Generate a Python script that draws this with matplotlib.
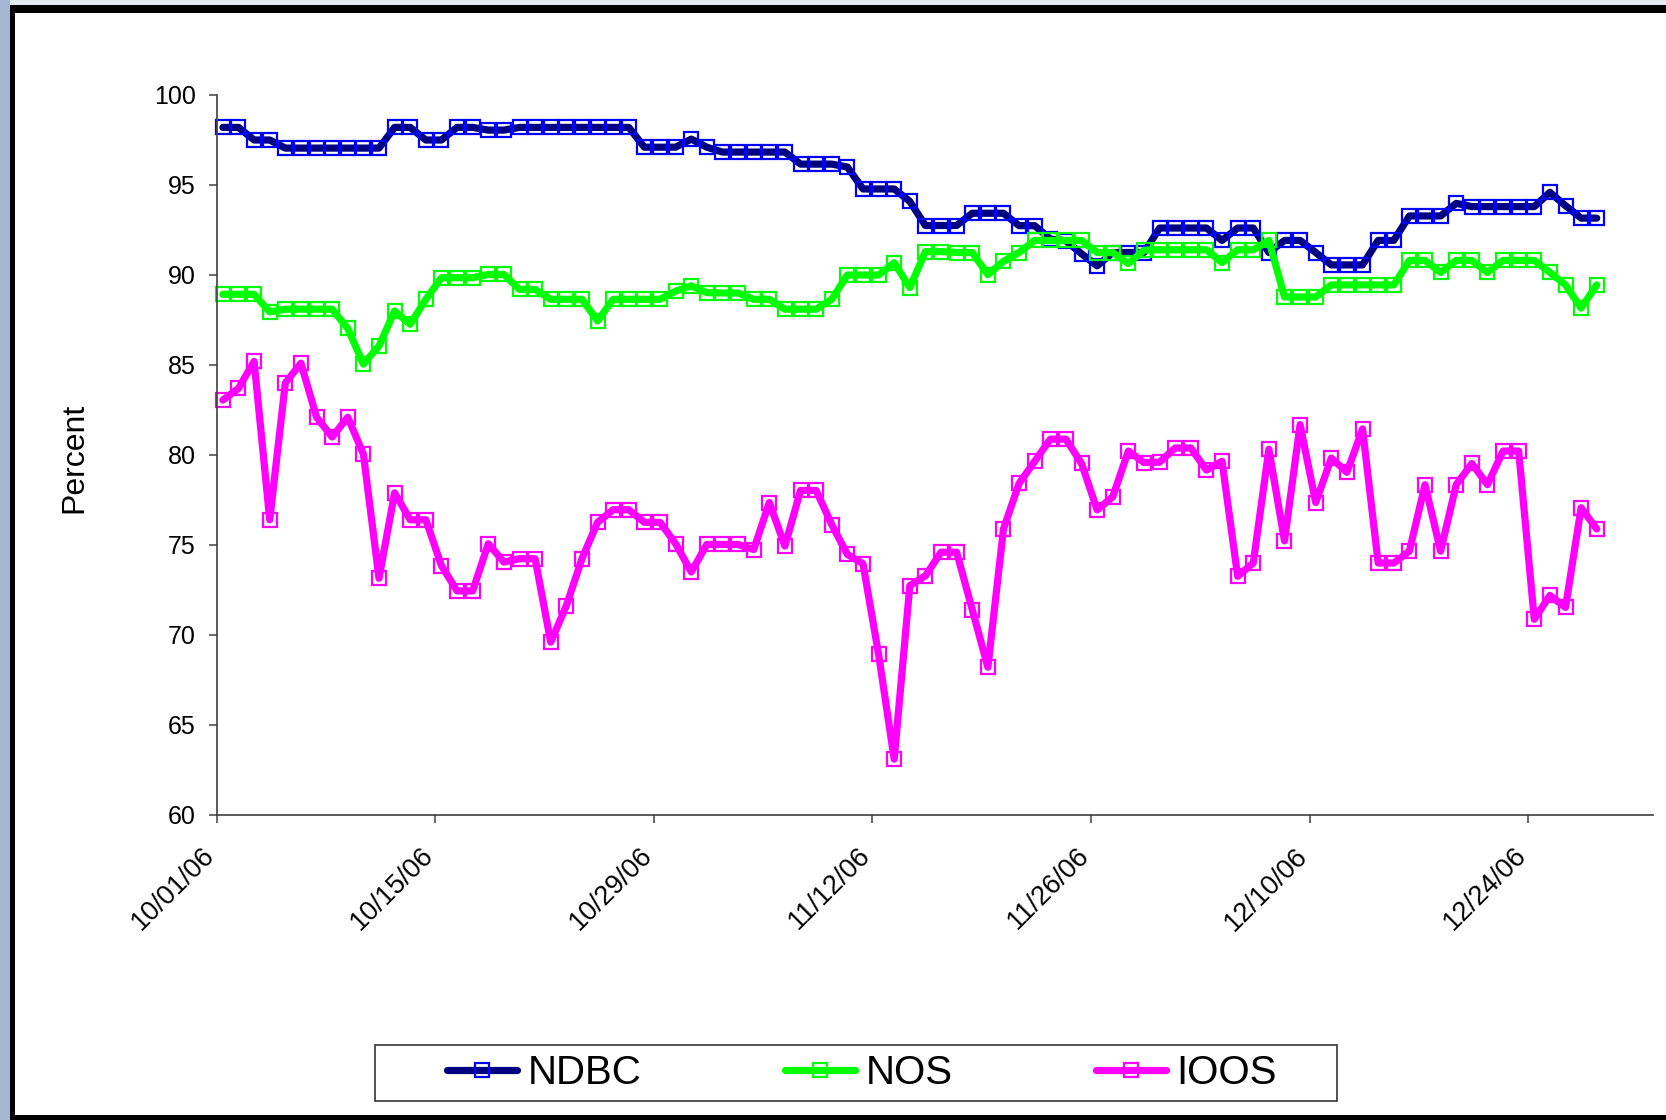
import pandas as pd
import matplotlib
matplotlib.use("Agg")
import matplotlib.pyplot as plt
import matplotlib.dates as mdates
from matplotlib.patches import Rectangle
from matplotlib.lines import Line2D
from matplotlib.transforms import ScaledTranslation

plt.rcParams['font.family'] = ['Liberation Sans', 'DejaVu Sans']

# Daily availability, 10/01/06 - 12/28/06 (one sample per day)
dates = pd.date_range('2006-10-01 09:30', periods=89, freq='D')

ndbc = [98.2, 98.2, 97.5, 97.5, 97.05, 97.05, 97.05, 97.05, 97.05, 97.05,
        97.05, 98.2, 98.2, 97.5, 97.5, 98.2, 98.2, 98.05, 98.05, 98.2,
        98.2, 98.2, 98.2, 98.2, 98.2, 98.2, 98.2, 97.1, 97.1, 97.1,
        97.55, 97.1, 96.83, 96.83, 96.83, 96.83, 96.83, 96.16, 96.16, 96.16,
        96.0, 94.78, 94.78, 94.78, 94.09, 92.75, 92.75, 92.75, 93.43, 93.43,
        93.43, 92.74, 92.74, 92.0, 91.9, 91.18, 90.51, 91.25, 91.25, 91.25,
        92.61, 92.61, 92.61, 92.61, 91.92, 92.61, 92.61, 91.25, 91.92, 91.92,
        91.25, 90.56, 90.56, 90.56, 91.92, 91.92, 93.28, 93.28, 93.28, 93.98,
        93.8, 93.8, 93.8, 93.8, 93.8, 94.59, 93.85, 93.16, 93.16]

nos = [88.93, 88.93, 88.93, 87.95, 88.1, 88.1, 88.1, 88.1, 87.03, 85.05,
       86.06, 88.0, 87.26, 88.65, 89.85, 89.85, 89.85, 90.03, 90.03, 89.2,
       89.2, 88.65, 88.65, 88.65, 87.45, 88.65, 88.65, 88.65, 88.65, 89.1,
       89.4, 89.02, 89.0, 89.0, 88.65, 88.65, 88.1, 88.1, 88.1, 88.65,
       90.0, 90.0, 90.0, 90.68, 89.3, 91.3, 91.3, 91.25, 91.25, 90.02,
       90.76, 91.25, 91.92, 91.92, 91.92, 91.92, 91.25, 91.25, 90.64, 91.38,
       91.4, 91.4, 91.4, 91.4, 90.69, 91.4, 91.4, 91.92, 88.78, 88.78,
       88.78, 89.45, 89.45, 89.45, 89.45, 89.45, 90.81, 90.81, 90.14, 90.81,
       90.81, 90.14, 90.81, 90.81, 90.81, 90.14, 89.45, 88.16, 89.45]

ioos = [83.05, 83.7, 85.2, 76.4, 84.0, 85.1, 82.1, 81.0, 82.1, 80.05,
        73.15, 77.9, 76.4, 76.4, 73.85, 72.45, 72.45, 75.07, 74.05, 74.24,
        74.24, 69.6, 71.63, 74.24, 76.26, 76.96, 76.96, 76.26, 76.26, 75.07,
        73.5, 75.03, 75.03, 75.03, 74.75, 77.36, 74.94, 78.03, 78.03, 76.13,
        74.48, 73.96, 68.93, 63.1, 72.74, 73.29, 74.6, 74.6, 71.41, 68.21,
        75.89, 78.42, 79.65, 80.88, 80.88, 79.53, 76.95, 77.68, 80.22, 79.58,
        79.6, 80.39, 80.39, 79.16, 79.65, 73.26, 74.0, 80.32, 75.23, 81.69,
        77.36, 79.83, 79.04, 81.45, 74.0, 74.0, 74.66, 78.35, 74.66, 78.35,
        79.53, 78.35, 80.22, 80.22, 70.87, 72.2, 71.53, 77.07, 75.89]

series_names = ['NDBC', 'NOS', 'IOOS']
tick_dates = pd.date_range('2006-10-01', '2006-12-24', freq='14D')
y_ticks = list(range(60, 101, 5))

W, H = 1666, 1120
fig = plt.figure(figsize=(W / 100, H / 100), dpi=100)
fig.patch.set_facecolor('white')

# Slide background and black frame
fig.add_artist(Rectangle((0, 1 - 5 / H), 1, 5 / H, transform=fig.transFigure,
                         facecolor='#e4e9f0', edgecolor='none', zorder=0))
fig.add_artist(Rectangle((0, 0), 10 / W, 1, transform=fig.transFigure,
                         facecolor='#a3b7d4', edgecolor='none', zorder=0))
fig.add_artist(Rectangle((10 / W, 0), 5 / W, 1 - 5 / H, transform=fig.transFigure,
                         facecolor='black', edgecolor='none', zorder=0))
fig.add_artist(Rectangle((10 / W, 1 - 13 / H), 1, 8 / H, transform=fig.transFigure,
                         facecolor='black', edgecolor='none', zorder=0))
fig.add_artist(Rectangle((10 / W, 0), 1, 5 / H, transform=fig.transFigure,
                         facecolor='black', edgecolor='none', zorder=0))

ax = fig.add_axes([216.7 / W, 1 - 815 / H, (1653 - 216.7) / W, (815 - 95) / H])
ax.set_facecolor('white')

styles = [
    dict(color='#000080', mec='#0000FF'),
    dict(color='#00FF00', mec='#00FF00'),
    dict(color='#FF00FF', mec='#FF00FF'),
]
handles = []
for vals, name, st in zip([ndbc, nos, ioos], series_names, styles):
    ax.plot(dates, vals, color=st['color'], lw=5.2, marker='s', ms=10.5,
            mfc='none', mec=st['mec'], mew=1.6, solid_joinstyle='round',
            solid_capstyle='round', clip_on=False)
    handles.append(Line2D([], [], color=st['color'], lw=5.2, marker='s', ms=10,
                          mfc='none', mec=st['mec'], mew=1.6,
                          solid_capstyle='round', label=name))

ax.set_xlim(pd.Timestamp('2006-10-01'), pd.Timestamp('2007-01-01'))
ax.set_ylim(60, 100)
ax.set_yticks(y_ticks)
ax.set_xticks(tick_dates)
ax.xaxis.set_major_formatter(mdates.DateFormatter('%m/%d/%y'))

for side in ['top', 'right']:
    ax.spines[side].set_visible(False)
for side in ['left', 'bottom']:
    ax.spines[side].set_color('#404040')
    ax.spines[side].set_linewidth(1.2)

ax.tick_params(axis='both', direction='out', length=6, width=1.1,
               color='#404040', labelsize=18, labelcolor='black')
ax.tick_params(axis='y', pad=9)
ax.tick_params(axis='x', pad=6, labelsize=19.5)
shift = ScaledTranslation(-0.15, -0.11, fig.dpi_scale_trans)
for lbl in ax.get_xticklabels():
    lbl.set_rotation(45)
    lbl.set_ha('right')
    lbl.set_va('top')
    lbl.set_rotation_mode('anchor')
    lbl.set_transform(lbl.get_transform() + shift)

ax.set_ylabel('Percent', fontsize=23)
ax.yaxis.set_label_coords(-0.0885, 0.496)

# Legend box below the plot
fig.add_artist(Rectangle((375 / W, 1 - 1101 / H), (1337 - 375) / W, (1101 - 1045) / H,
                         transform=fig.transFigure, facecolor='white',
                         edgecolor='#333333', lw=1.2, zorder=1))
fig.legend(handles=handles, loc='center', bbox_to_anchor=(862 / W, 1 - 1073 / H),
           ncol=3, frameon=False, fontsize=29, handlelength=1.75,
           handletextpad=0.26, columnspacing=3.55, numpoints=1)

fig.savefig('out.png', dpi=100, facecolor=fig.get_facecolor())
